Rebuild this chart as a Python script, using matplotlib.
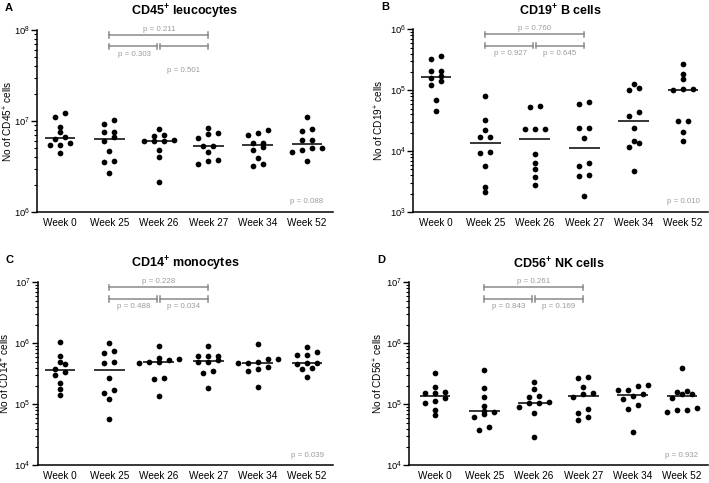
import numpy as np
import matplotlib
matplotlib.use("Agg")
import matplotlib.pyplot as plt
from matplotlib.ticker import LogLocator, NullFormatter

plt.rcParams["font.family"] = ["Liberation Sans", "DejaVu Sans"]
plt.rcParams["mathtext.fontset"] = "custom"
plt.rcParams["mathtext.rm"] = "Liberation Sans"
plt.rcParams["mathtext.bf"] = "Liberation Sans:bold"
plt.rcParams["mathtext.it"] = "Liberation Sans:italic"

# ─────────────────────────────────────────────
# Data (cells per sample)
# ─────────────────────────────────────────────

weeks = ["Week 0", "Week 25", "Week 26", "Week 27", "Week 34", "Week 52"]

cd45 = [
    [1.22e7, 1.12e7, 8.65e6, 7.6e6, 6.6e6, 6.3e6, 5.7e6, 5.5e6, 5.45e6, 4.4e6],
    [1.03e7, 9.2e6, 7.6e6, 7.6e6, 6.7e6, 6.1e6, 4.7e6, 3.66e6, 3.5e6, 2.66e6],
    [8.2e6, 7.1e6, 6.9e6, 6.2e6, 6.1e6, 6.1e6, 6.05e6, 4.8e6, 4.0e6, 2.15e6],
    [8.3e6, 7.3e6, 7.2e6, 6.45e6, 5.3e6, 5.3e6, 4.6e6, 3.7e6, 3.65e6, 3.4e6],
    [7.96e6, 7.3e6, 7.1e6, 5.8e6, 5.8e6, 5.2e6, 4.8e6, 3.95e6, 3.36e6, 3.23e6],
    [1.1e7, 8.1e6, 7.8e6, 6.2e6, 6.2e6, 5.0e6, 5.0e6, 4.8e6, 4.6e6, 3.66e6],
]

cd19 = [
    [3.68e5, 3.24e5, 2.08e5, 2.08e5, 1.68e5, 1.58e5, 1.44e5, 1.23e5, 6.95e4, 4.58e4],
    [8.1e4, 3.26e4, 2.23e4, 1.73e4, 1.73e4, 9.6e3, 9.2e3, 5.8e3, 2.6e3, 2.1e3],
    [5.4e4, 5.2e4, 2.29e4, 2.29e4, 2.29e4, 8.9e3, 6.3e3, 5.1e3, 3.8e3, 2.8e3],
    [6.4e4, 5.9e4, 2.41e4, 2.41e4, 1.65e4, 6.3e3, 5.7e3, 4.1e3, 3.87e3, 1.85e3],
    [1.27e5, 1.08e5, 9.9e4, 4.36e4, 3.8e4, 2.44e4, 1.44e4, 1.37e4, 1.17e4, 4.7e3],
    [2.72e5, 1.84e5, 1.52e5, 1.04e5, 1.04e5, 1.0e5, 3.14e4, 3.14e4, 2.07e4, 1.47e4],
]

cd14 = [
    [1.04e6, 6.27e5, 4.89e5, 4.53e5, 3.8e5, 3.42e5, 3.02e5, 2.26e5, 1.76e5, 1.42e5],
    [1.02e6, 7.5e5, 7.0e5, 4.94e5, 4.7e5, 2.73e5, 1.71e5, 1.55e5, 1.22e5, 5.7e4],
    [9.0e5, 5.68e5, 5.47e5, 5.3e5, 4.89e5, 4.89e5, 4.7e5, 2.73e5, 2.57e5, 1.37e5],
    [9.0e5, 6.27e5, 6.2e5, 6.2e5, 5.3e5, 4.94e5, 4.94e5, 3.52e5, 3.3e5, 1.83e5],
    [9.75e5, 5.47e5, 5.47e5, 4.94e5, 4.7e5, 4.7e5, 4.14e5, 3.8e5, 3.52e5, 1.92e5],
    [8.6e5, 7.2e5, 6.35e5, 6.35e5, 4.8e5, 4.8e5, 4.63e5, 3.94e5, 3.83e5, 2.83e5],
]

cd56 = [
    [3.22e5, 1.94e5, 1.61e5, 1.55e5, 1.51e5, 1.25e5, 1.12e5, 1.04e5, 8.1e4, 6.7e4],
    [3.65e5, 1.85e5, 1.3e5, 9.5e4, 7.85e4, 7.6e4, 6.9e4, 6.3e4, 4.3e4, 3.8e4],
    [2.3e5, 1.76e5, 1.38e5, 1.33e5, 1.08e5, 1.06e5, 1.04e5, 9.1e4, 7.1e4, 2.94e4],
    [2.83e5, 2.67e5, 1.95e5, 1.51e5, 1.48e5, 1.3e5, 8.3e4, 7.3e4, 6.3e4, 5.5e4],
    [2.07e5, 2.02e5, 1.72e5, 1.72e5, 1.46e5, 1.37e5, 1.21e5, 9.7e4, 8.4e4, 3.55e4],
    [3.9e5, 1.67e5, 1.61e5, 1.46e5, 1.46e5, 1.28e5, 8.6e4, 8.1e4, 8.1e4, 7.6e4],
]

titles = ["CD45$^{\\mathbf{+}}$ leucocytes", "CD19$^{\\mathbf{+}}$ B cells",
          "CD14$^{\\mathbf{+}}$ monocytes", "CD56$^{\\mathbf{+}}$ NK cells"]
ylabels = ["No of CD45$^{+}$ cells", "No of CD19$^{+}$ cells",
           "No of CD14$^{+}$ cells", "No of CD56$^{+}$ cells"]
letters = ["A", "B", "C", "D"]
ylims = [(1e6, 1e8), (1e3, 1e6), (1e4, 1e7), (1e4, 1e7)]

p_top = ["0.211", "0.760", "0.228", "0.261"]       # week 25 vs week 27
p_left = ["0.303", "0.927", "0.488", "0.843"]      # week 25 vs week 26
p_right = ["0.501", "0.645", "0.034", "0.169"]     # week 26 vs week 27
p_overall = ["0.088", "0.010", "0.039", "0.932"]

# ─────────────────────────────────────────────
# Layout (pixel boxes of each panel: left, right, top, bottom)
# ─────────────────────────────────────────────

W, H = 709, 483
boxes = [(37, 333, 30, 212), (413, 708, 29.3, 212),
         (37.5, 333, 282.3, 465.3), (409, 708, 282.3, 465.3)]
first_cat_px = [60, 436, 60, 435]
ylabel_px = [15.5, 386, 12.5, 385]   # right edge of the rotated label
CAT_PX = 49.4

GRAY_LINE = "#8a8a8a"
GRAY_TEXT = "#9c9c9c"


def swarm_offsets(vals, px_per_dec, gap=10.0, tol=5.0):
    """Centre points that sit on (nearly) the same row, Prism style."""
    y = np.log10(vals) * px_per_dec
    order = np.argsort(y)
    rows = []
    for i in order:
        if rows and y[i] - y[rows[-1][0]] < tol:
            rows[-1].append(i)
        else:
            rows.append([i])
    off = np.zeros(len(vals))
    for row in rows:
        n = len(row)
        for k, i in enumerate(row):
            off[i] = (k - (n - 1) / 2) * gap
    return off


fig = plt.figure(figsize=(W / 100, H / 100), dpi=100)

panels = [cd45, cd19, cd14, cd56]
for p, data in enumerate(panels):
    l, r, t, b = boxes[p]
    ax = fig.add_axes([l / W, 1 - b / H, (r - l) / W, (b - t) / H])
    lo, hi = ylims[p]
    px_per_dec = (b - t) / np.log10(hi / lo)

    x0 = -(first_cat_px[p] - l) / CAT_PX
    x1 = x0 + (r - l) / CAT_PX

    for i, vals in enumerate(data):
        vals = np.array(vals)
        xs = i + swarm_offsets(vals, px_per_dec) / CAT_PX
        ax.scatter(xs, vals, s=17, color="black", linewidths=0, zorder=3,
                   clip_on=False)
        med = np.median(vals)
        ax.plot([i - 0.31, i + 0.31], [med, med], color="black", lw=1.1,
                zorder=2, solid_capstyle="butt")

    ax.set_yscale("log")
    ax.set_ylim(lo, hi)
    ax.set_xlim(x0, x1)
    ax.yaxis.set_major_locator(LogLocator(base=10, numticks=10))
    ax.yaxis.set_minor_locator(LogLocator(base=10, subs=np.arange(2, 10), numticks=10))
    ax.yaxis.set_minor_formatter(NullFormatter())
    ax.set_xticks(range(len(weeks)))
    ax.set_xticklabels(weeks)
    ax.tick_params(axis="x", length=0, pad=4, labelsize=7.2)
    ax.tick_params(axis="y", which="major", length=4, width=1, labelsize=6.8, pad=1)
    ax.tick_params(axis="y", which="minor", length=2, width=0.8)
    for s in ["top", "right"]:
        ax.spines[s].set_visible(False)
    for s in ["left", "bottom"]:
        ax.spines[s].set_linewidth(1.1)
    ax.set_ylabel(ylabels[p], fontsize=7.2)
    ax.yaxis.set_label_coords((ylabel_px[p] - l) / (r - l), 0.5)

    # comparison brackets (week 25-27)
    tr = ax.get_xaxis_transform()
    kw = dict(color=GRAY_LINE, lw=1.1, transform=tr, clip_on=False)
    tick = 0.015
    ax.plot([1, 3], [0.972, 0.972], **kw)
    ax.plot([1, 1], [0.972 - tick, 0.972 + tick], **kw)
    ax.plot([3, 3], [0.972 - tick, 0.972 + tick], **kw)
    ax.plot([1, 1.97], [0.91, 0.91], **kw)
    ax.plot([2.03, 3], [0.91, 0.91], **kw)
    for xv in [1, 1.97, 2.03, 3]:
        ax.plot([xv, xv], [0.91 - tick, 0.91 + tick], **kw)

    tkw = dict(transform=tr, color=GRAY_TEXT, fontsize=5.7, ha="center",
               va="center", clip_on=False)
    ax.text(2, 1.005, "p = " + p_top[p], **tkw)
    ax.text(1.5, 0.867, "p = " + p_left[p], **tkw)
    ax.text(2.5, 0.78 if p == 0 else 0.867, "p = " + p_right[p], **tkw)
    ax.text(5, 0.055, "p = " + p_overall[p], **tkw)

    # title and panel letter
    fig.text((l + r) / 2 / W, 1 - (t - 18) / H, titles[p], fontsize=9,
             fontweight="bold", ha="center", va="center")
    fig.text((l - 28) / W, 1 - (t - 22) / H, letters[p], fontsize=8,
             fontweight="bold", ha="center", va="center")

fig.savefig("out.png", dpi=100)
